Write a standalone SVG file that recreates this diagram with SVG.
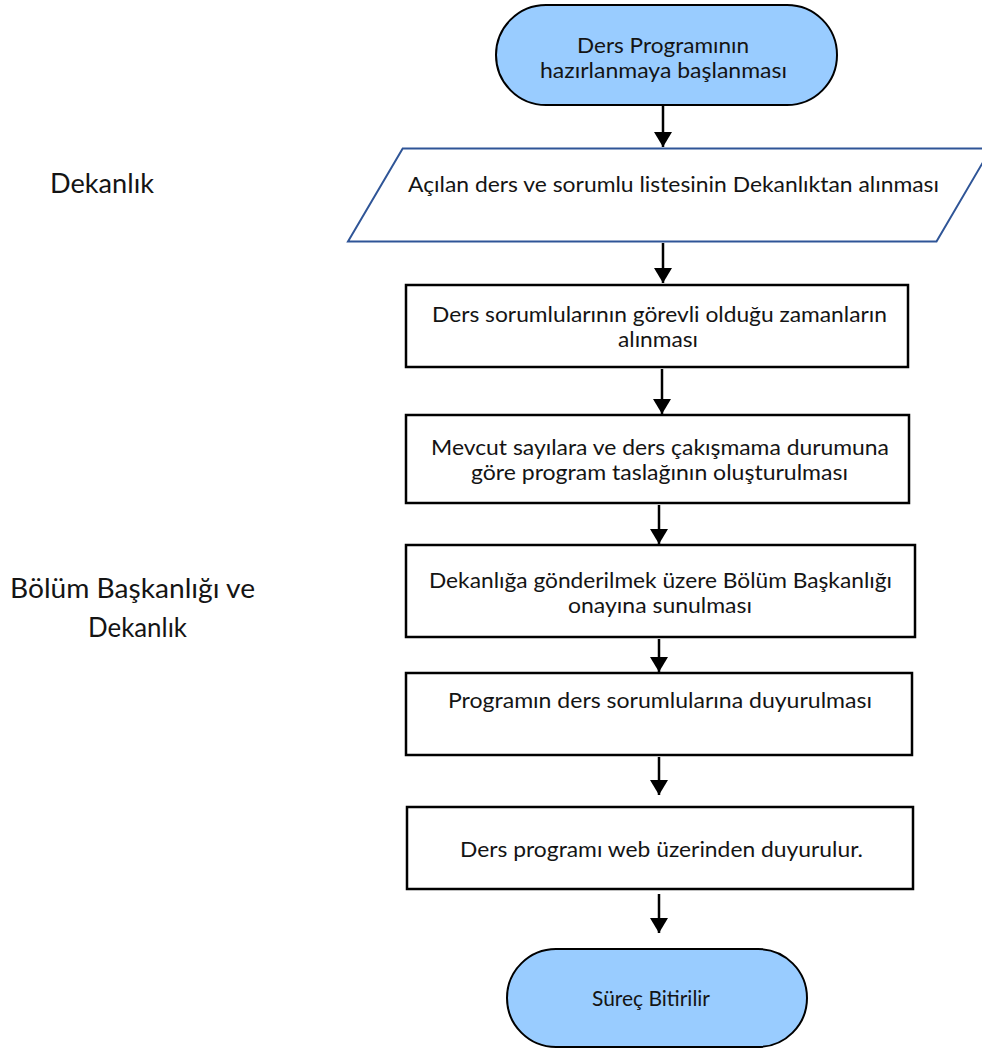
<svg xmlns="http://www.w3.org/2000/svg" width="982" height="1052" viewBox="0 0 982 1052">
<style>
  .t { font-family: Lato, "Liberation Sans", sans-serif; font-size: 20.5px; fill: #141414; text-anchor: middle; }
  .lbl { font-family: Lato, "Liberation Sans", sans-serif; font-size: 27px; fill: #141414; text-anchor: middle; }
  .term { fill: #99CCFF; stroke: #000; stroke-width: 2; }
  .box { fill: #fff; stroke: #000; stroke-width: 2.5; }
  .io { fill: #fff; stroke: #2F5597; stroke-width: 2; }
  .conn line { stroke: #000; stroke-width: 2.5; marker-end: url(#arr); }
</style>
<defs>
  <marker id="arr" viewBox="0 0 15 18" refX="15" refY="9" markerWidth="15" markerHeight="18" markerUnits="userSpaceOnUse" orient="auto">
    <path d="M0,0 L15,9 L0,18 z" fill="#000"/>
  </marker>
</defs>
<rect width="982" height="1052" fill="#fff"/>

<g id="label-dekanlik">
  <text class="lbl" x="102" y="193" textLength="104" lengthAdjust="spacingAndGlyphs">Dekanlık</text>
</g>
<g id="label-bolum">
  <text class="lbl" x="132.5" y="598" textLength="245" lengthAdjust="spacingAndGlyphs">Bölüm Başkanlığı ve</text>
  <text class="lbl" x="137.5" y="637" textLength="99" lengthAdjust="spacingAndGlyphs">Dekanlık</text>
</g>

<g class="conn" id="connectors">
  <line x1="663" y1="106" x2="663" y2="147"/>
  <line x1="663" y1="243" x2="663" y2="283"/>
  <line x1="662" y1="369" x2="662" y2="414"/>
  <line x1="659" y1="505" x2="659" y2="544"/>
  <line x1="659" y1="639" x2="659" y2="672"/>
  <line x1="659" y1="757" x2="659" y2="795"/>
  <line x1="659" y1="894" x2="659" y2="933"/>
</g>

<g id="start">
  <rect class="term" x="496" y="5" width="341" height="100" rx="50" ry="50"/>
  <text class="t" x="663" y="53" textLength="172" lengthAdjust="spacingAndGlyphs">Ders Programının</text>
  <text class="t" x="663.5" y="78" textLength="247" lengthAdjust="spacingAndGlyphs">hazırlanmaya başlanması</text>
</g>

<g id="input">
  <polygon class="io" points="402.7,148.5 991,148.5 936.5,241.5 348,241.5"/>
  <text class="t" x="673.5" y="192" textLength="531" lengthAdjust="spacingAndGlyphs">Açılan ders ve sorumlu listesinin Dekanlıktan alınması</text>
</g>

<g id="step1">
  <rect class="box" x="406" y="285" width="502" height="82"/>
  <text class="t" x="659.5" y="322" textLength="455" lengthAdjust="spacingAndGlyphs">Ders sorumlularının görevli olduğu zamanların</text>
  <text class="t" x="658" y="347" textLength="80" lengthAdjust="spacingAndGlyphs">alınması</text>
</g>

<g id="step2">
  <rect class="box" x="406" y="415" width="503" height="88"/>
  <text class="t" x="660" y="455" textLength="458" lengthAdjust="spacingAndGlyphs">Mevcut sayılara ve ders çakışmama durumuna</text>
  <text class="t" x="659.5" y="480" textLength="377" lengthAdjust="spacingAndGlyphs">göre program taslağının oluşturulması</text>
</g>

<g id="step3">
  <rect class="box" x="406" y="545" width="509" height="92"/>
  <text class="t" x="660.5" y="588" textLength="463" lengthAdjust="spacingAndGlyphs">Dekanlığa gönderilmek üzere Bölüm Başkanlığı</text>
  <text class="t" x="660" y="613" textLength="184" lengthAdjust="spacingAndGlyphs">onayına sunulması</text>
</g>

<g id="step4">
  <rect class="box" x="406" y="673" width="506" height="82"/>
  <text class="t" x="660" y="708" textLength="424" lengthAdjust="spacingAndGlyphs">Programın ders sorumlularına duyurulması</text>
</g>

<g id="step5">
  <rect class="box" x="407" y="807" width="506" height="82"/>
  <text class="t" x="661.5" y="857" textLength="403" lengthAdjust="spacingAndGlyphs">Ders programı web üzerinden duyurulur.</text>
</g>

<g id="end">
  <rect class="term" x="507" y="949" width="300" height="98" rx="49" ry="49"/>
  <text class="t" x="651" y="1006" textLength="118" lengthAdjust="spacingAndGlyphs">Süreç Bitirilir</text>
</g>
</svg>
